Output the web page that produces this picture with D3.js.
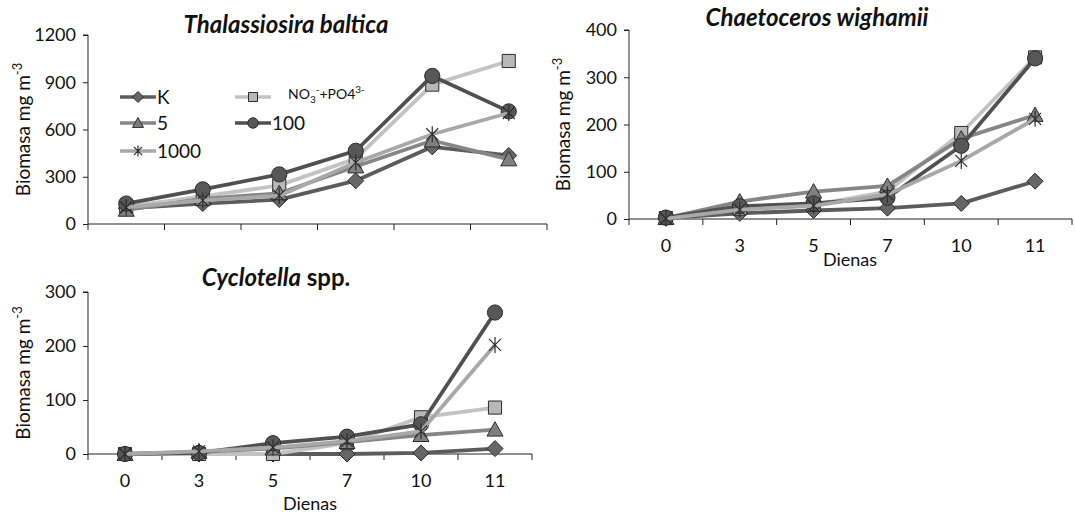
<!DOCTYPE html>
<html>
<head>
<meta charset="utf-8">
<script src="https://cdn.jsdelivr.net/npm/d3@7"></script>
<style>
  html, body { margin: 0; padding: 0; background: #fff; }
  svg { display: block; font-family: Lato, "Open Sans", sans-serif; }
</style>
</head>
<body>
<svg id="chart" width="1075" height="513"></svg>
<script>
// Sampling days (category axis)
const days = ["0", "3", "5", "7", "10", "11"];

// Treatments, in drawing order
const treatments = ["K", "NO3+PO4", "5", "100", "1000"];

// Thalassiosira baltica biomass, mg m-3
const thalK      = [100, 130, 155, 275, 490, 435];
const thalNP     = [110, 175, 245, 415, 885, 1035];
const thal5      = [90, 160, 195, 365, 530, 410];
const thal100    = [130, 220, 315, 465, 940, 715];
const thal1000   = [105, 150, 180, 390, 570, 705];
const thalTicks  = [0, 300, 600, 900, 1200];

// Chaetoceros wighamii biomass, mg m-3
const chaeK      = [2, 12, 18, 23, 33, 80];
const chaeNP     = [2, 22, 30, 58, 182, 342];
const chae5      = [2, 37, 58, 70, 170, 220];
const chae100    = [3, 27, 33, 45, 155, 340];
const chae1000   = [1, 20, 28, 52, 123, 212];
const chaeTicks  = [0, 100, 200, 300, 400];

// Cyclotella spp. biomass, mg m-3
const cyclK      = [0, 0, 0, 0, 2, 10];
const cyclNP     = [0, 0, 0, 20, 68, 86];
const cycl5      = [0, 4, 10, 22, 35, 45];
const cycl100    = [0, 2, 20, 32, 55, 262];
const cycl1000   = [0, 5, 12, 24, 42, 202];
const cyclTicks  = [0, 100, 200, 300];

// Visual style for each treatment
const styles = {
  "K":       { line: "#5c5c5c", fill: "#666666", marker: "diamond" },
  "NO3+PO4": { line: "#c3c3c3", fill: "#b8b8b8", marker: "square" },
  "5":       { line: "#868686", fill: "#808080", marker: "triangle" },
  "100":     { line: "#505050", fill: "#575757", marker: "circle" },
  "1000":    { line: "#a8a8a8", fill: "none",    marker: "star" }
};

const svg = d3.select("#chart");

function markerPath(type, s) {
  // s = overall marker size in px
  const h = s / 2;
  switch (type) {
    case "diamond":  return `M0,${-h}L${h},0L0,${h}L${-h},0Z`;
    case "square":   { const q = h * 0.82; return `M${-q},${-q}H${q}V${q}H${-q}Z`; }
    case "triangle": return `M0,${-h}L${h},${h * 0.8}L${-h},${h * 0.8}Z`;
    case "circle":   return d3.arc()({ innerRadius: 0, outerRadius: h * 0.95, startAngle: 0, endAngle: 2 * Math.PI });
    case "star":     { const a = h * 0.75; return `M${-a},${-a}L${a},${a}M${-a},${a}L${a},${-a}M0,${-h}V${h}`; }
  }
}

function drawMarker(g, type, x, y, s, st) {
  const p = g.append("path")
    .attr("d", markerPath(type, s))
    .attr("transform", `translate(${x},${y})`);
  if (type === "star") {
    p.attr("fill", "none").attr("stroke", "#2e2e2e").attr("stroke-width", 1.2);
  } else {
    p.attr("fill", st.fill).attr("stroke", "#2b2b2b").attr("stroke-width", 1);
  }
}

function panel(cfg) {
  const g = svg.append("g");
  const x = d3.scaleBand().domain(days).range([cfg.x0, cfg.x1]);
  const y = d3.scaleLinear().domain([0, cfg.ymax]).range([cfg.yb, cfg.yt]);

  // y axis
  const yAxis = d3.axisLeft(y).tickValues(cfg.ticks).tickSize(5).tickPadding(7).tickFormat(d3.format("d"));
  const ya = g.append("g").attr("transform", `translate(${cfg.x0},0)`).call(yAxis);
  ya.select(".domain").attr("stroke", "#222").attr("d", `M-5,${cfg.yt}H0V${cfg.yb}`);
  ya.selectAll(".tick line").attr("stroke", "#222");
  ya.selectAll("text").attr("font-size", 18).attr("fill", "#111").attr("font-family", "Lato, sans-serif");

  // x axis: baseline with boundary tick marks
  const xa = g.append("g");
  xa.append("line").attr("x1", cfg.x0).attr("x2", cfg.x1).attr("y1", cfg.yb).attr("y2", cfg.yb)
    .attr("stroke", "#222");
  const bounds = days.map(d => x(d)).concat([cfg.x1]);
  xa.selectAll("line.b").data(bounds).enter().append("line")
    .attr("x1", d => d).attr("x2", d => d)
    .attr("y1", cfg.yb).attr("y2", cfg.yb + 6).attr("stroke", "#222");
  if (cfg.xlabels) {
    xa.selectAll("text.t").data(days).enter().append("text")
      .attr("x", d => x(d) + x.bandwidth() / 2).attr("y", cfg.yb + 33)
      .attr("text-anchor", "middle").attr("font-size", 18).attr("fill", "#111")
      .text(d => d);
  }
  if (cfg.xtitle) {
    g.append("text").attr("x", cfg.xtitle[0]).attr("y", cfg.xtitle[1])
      .attr("text-anchor", "middle").attr("font-size", 18).attr("fill", "#111").text("Dienas");
  }

  // y axis title
  const yt = g.append("text")
    .attr("transform", `translate(${cfg.ytitleX},${(cfg.yt + cfg.yb) / 2}) rotate(-90)`)
    .attr("text-anchor", "middle").attr("font-size", 19).attr("fill", "#111");
  yt.append("tspan").text("Biomasa mg m");
  yt.append("tspan").attr("font-size", 13).attr("dy", -8).text("-3");

  // panel title
  const tt = g.append("text").attr("x", cfg.title.x).attr("y", cfg.title.y)
    .attr("text-anchor", "middle").attr("font-size", 24).attr("font-weight", "bold").attr("fill", "#111");
  tt.append("tspan").attr("font-style", "italic").text(cfg.title.italic);
  if (cfg.title.plain) tt.append("tspan").text(cfg.title.plain);

  const cx = d => x(d) + x.bandwidth() / 2;
  const line = d3.line().x((v, i) => cx(days[i])).y(v => y(v));

  treatments.forEach((t, k) => {
    const st = styles[t];
    g.append("path").datum(cfg.series[k])
      .attr("d", line).attr("fill", "none").attr("stroke", st.line)
      .attr("stroke-width", 3.8).attr("stroke-linejoin", "round");
    cfg.series[k].forEach((v, i) => drawMarker(g, st.marker, cx(days[i]), y(v), 16, st));
  });
}

panel({
  x0: 88, x1: 547, yt: 35, yb: 224, ymax: 1200, ticks: thalTicks,
  ytitleX: 30, xlabels: false,
  title: { x: 286, y: 33, italic: "Thalassiosira baltica" },
  series: [thalK, thalNP, thal5, thal100, thal1000]
});

panel({
  x0: 629, x1: 1072, yt: 30, yb: 219, ymax: 400, ticks: chaeTicks,
  ytitleX: 570, xlabels: true, xtitle: [850, 266],
  title: { x: 817, y: 26, italic: "Chaetoceros wighamii" },
  series: [chaeK, chaeNP, chae5, chae100, chae1000]
});

panel({
  x0: 88, x1: 532, yt: 292, yb: 454, ymax: 300, ticks: cyclTicks,
  ytitleX: 30, xlabels: true, xtitle: [310, 510],
  title: { x: 276, y: 286, italic: "Cyclotella", plain: " spp." },
  series: [cyclK, cyclNP, cycl5, cycl100, cycl1000]
});

// Legend in the Thalassiosira panel
const legendItems = [
  { t: "K",       lx: 120, ly: 97 },
  { t: "NO3+PO4", lx: 235, ly: 97 },
  { t: "5",       lx: 120, ly: 123 },
  { t: "100",     lx: 235, ly: 123 },
  { t: "1000",    lx: 120, ly: 151 }
];
const lg = svg.append("g");
legendItems.forEach(it => {
  const st = styles[it.t];
  lg.append("line").attr("x1", it.lx).attr("x2", it.lx + 36).attr("y1", it.ly).attr("y2", it.ly)
    .attr("stroke", st.line).attr("stroke-width", 3.5);
  drawMarker(lg, st.marker, it.lx + 18, it.ly, 11, st);
  const tx = lg.append("text").attr("x", it.lx + 37).attr("y", it.ly + 7)
    .attr("font-size", 19).attr("fill", "#111");
  if (it.t === "NO3+PO4") {
    tx.attr("x", it.lx + 53).attr("y", it.ly + 2).attr("font-size", 14);
    tx.append("tspan").text("NO");
    tx.append("tspan").attr("font-size", 10).attr("dy", 4).text("3");
    tx.append("tspan").attr("font-size", 10).attr("dy", -10).text("-");
    tx.append("tspan").attr("dy", 6).text("+PO4");
    tx.append("tspan").attr("font-size", 10).attr("dy", -6).text("3-");
  } else {
    tx.text(it.t);
  }
});
</script>
</body>
</html>
